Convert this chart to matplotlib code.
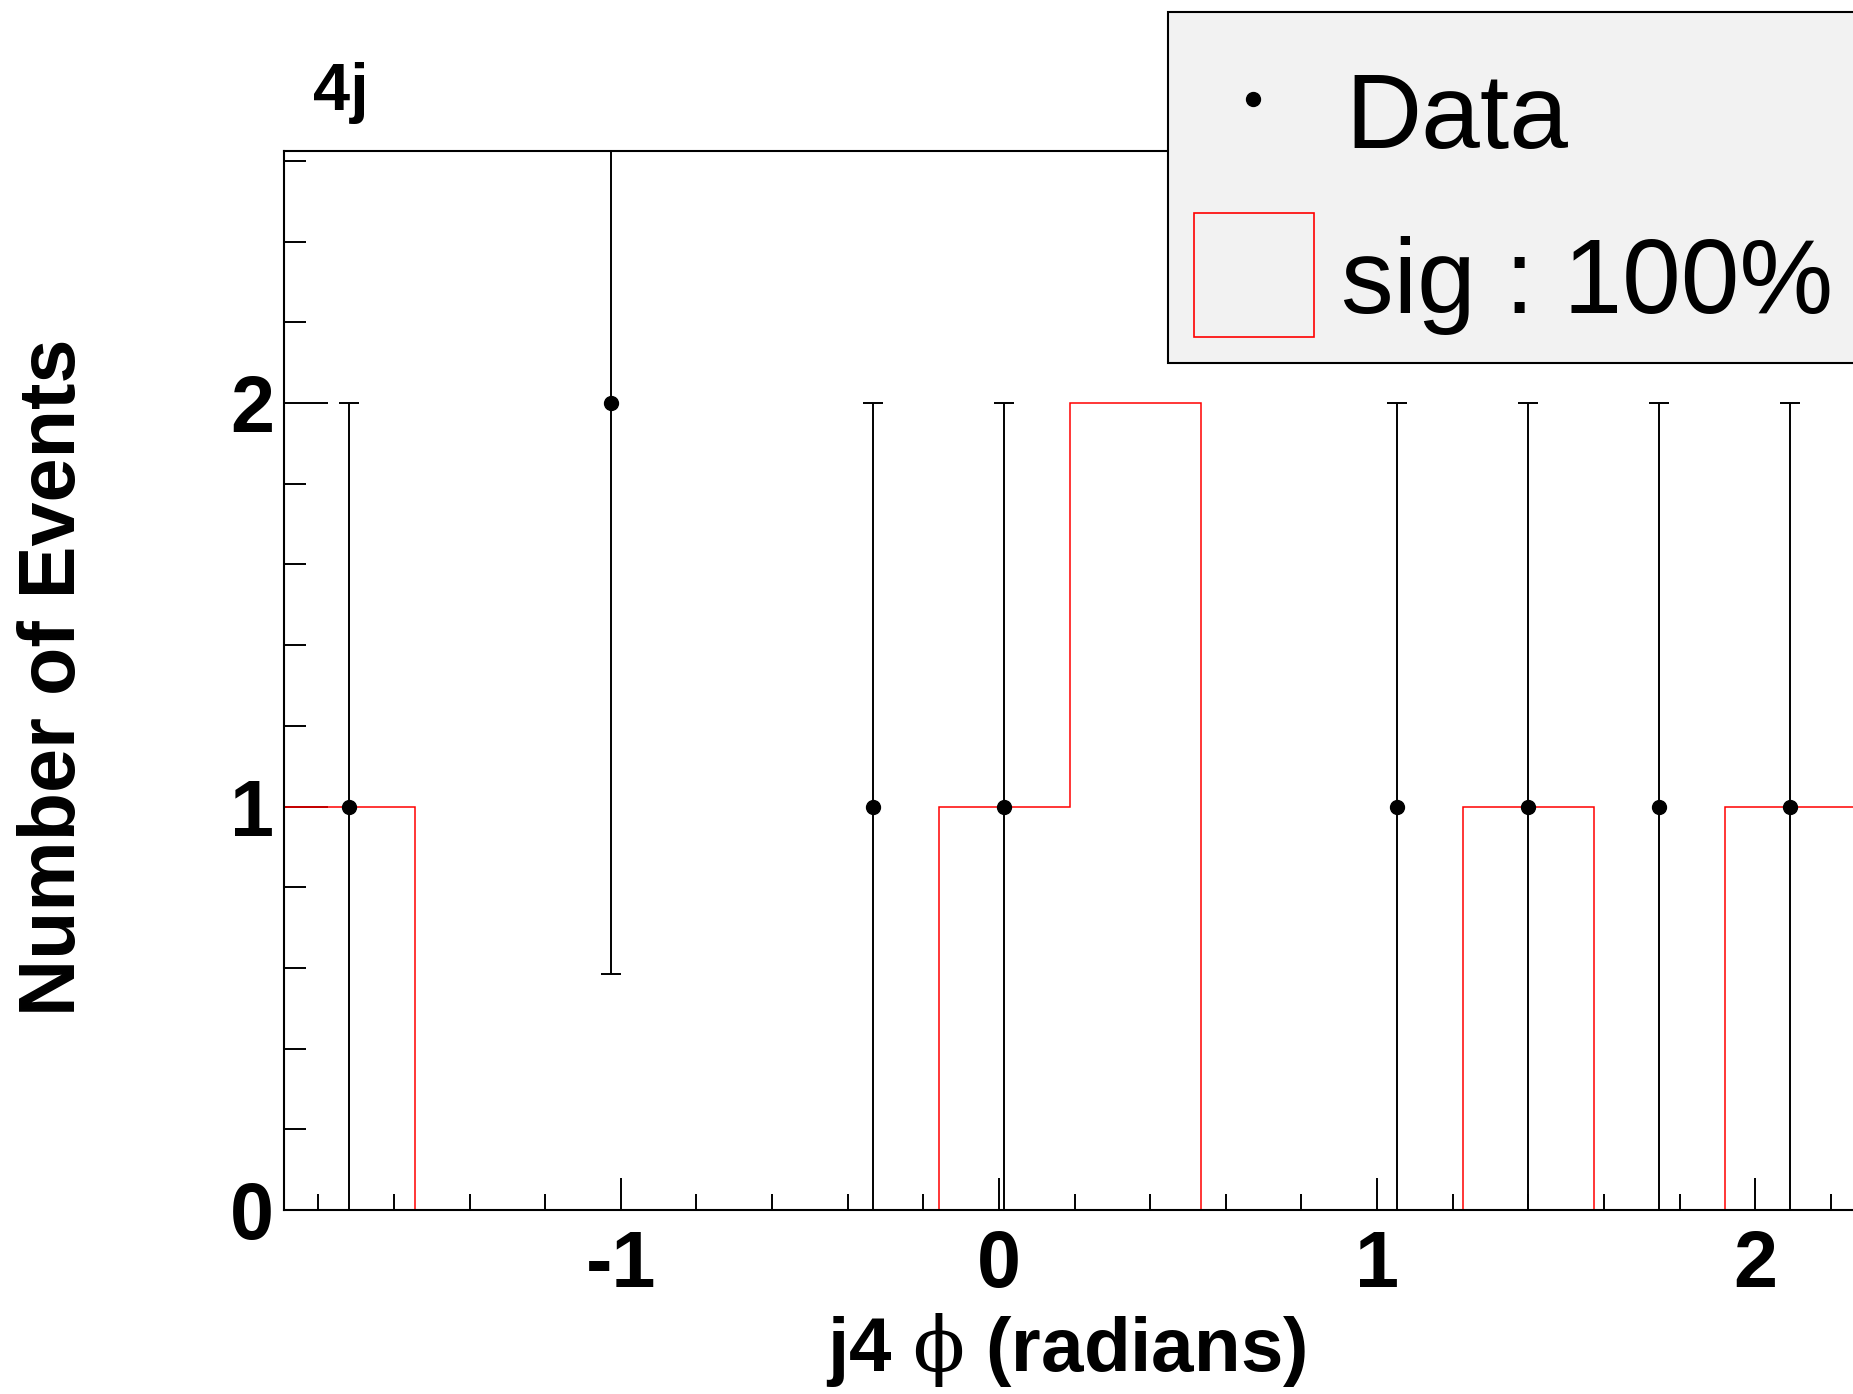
import numpy as np
import matplotlib
matplotlib.use("Agg")
import matplotlib.pyplot as plt
from matplotlib.patches import Rectangle
from matplotlib.lines import Line2D
from matplotlib.ticker import MultipleLocator, FixedLocator

plt.rcParams['font.family'] = ['Liberation Sans', 'DejaVu Sans']
plt.rcParams['axes.unicode_minus'] = False
plt.rcParams['mathtext.fontset'] = 'dejavuserif'

# histogram binning (j4 phi, radians)
x_min = -1.892
bin_width = 0.3465
n_bins = 12

# data counts per bin
data_counts = [1, 0, 2, 0, 1, 1, 0, 0, 1, 1, 1, 1]
# signal (100%) counts per bin
sig_counts = [1, 0, 0, 0, 0, 1, 2, 0, 0, 1, 0, 1]

x_major_ticks = [-1, 0, 1, 2]

edges = x_min + bin_width * np.arange(n_bins + 1)
centers = 0.5 * (edges[:-1] + edges[1:])

W, H = 1853, 1394
fig = plt.figure(figsize=(W / 100, H / 100), dpi=100)

# axes placed in pixels; the right part of the frame runs past the canvas
x_lo, x_hi = x_min, 3.0
px_per_unit = 378.1
left_px = 283.6
right_px = left_px + (x_hi - x_lo) * px_per_unit
bottom_px, top_px = 1210.0, 151.3
ax = fig.add_axes([left_px / W, 1 - bottom_px / H,
                   (right_px - left_px) / W, (bottom_px - top_px) / H])

ax.stairs(sig_counts, edges, color='red', lw=1.1, baseline=0, zorder=2)

counts = np.array(data_counts, dtype=float)
mask = counts > 0
ax.errorbar(centers[mask], counts[mask], yerr=np.sqrt(counts[mask]),
            fmt='o', color='black', ms=10, elinewidth=1.4, capsize=7,
            capthick=1.4, zorder=3)

ax.set_xlim(x_lo, x_hi)
ax.set_ylim(0, 2.624)

ax.xaxis.set_major_locator(FixedLocator(x_major_ticks))
ax.xaxis.set_minor_locator(MultipleLocator(0.2))
ax.yaxis.set_major_locator(MultipleLocator(1))
ax.yaxis.set_minor_locator(MultipleLocator(0.2))

ax.tick_params(axis='x', which='major', direction='in', length=23, width=1.4,
               pad=14, labelsize=57)
ax.tick_params(axis='x', which='minor', direction='in', length=11.5, width=1.4)
ax.tick_params(axis='y', which='major', direction='in', length=31.5, width=1.4,
               pad=7, labelsize=57)
ax.tick_params(axis='y', which='minor', direction='in', length=15.8, width=1.4)
for lab in ax.get_xticklabels() + ax.get_yticklabels():
    lab.set_fontweight('bold')

for s in ax.spines.values():
    s.set_linewidth(1.5)

# axis titles
fig.text(1066 / W, 1 - 1371 / H, r"j4 $\mathrm{\phi}$ (radians)", ha='center',
         va='baseline', fontsize=55, fontweight='bold')
fig.text(55 / W, 1 - 677 / H, "Number of Events", rotation=90, ha='center',
         va='center', fontsize=57, fontweight='bold')
fig.text(313 / W, 1 - 110 / H, "4j", ha='left', va='baseline', fontsize=48,
         fontweight='bold')

# legend box (runs past the right edge like the original)
box = Rectangle((1167.6 / W, 1 - 362.8 / H), (1950 - 1167.6) / W,
                (362.8 - 11.8) / H, transform=fig.transFigure,
                facecolor='#f2f2f2', edgecolor='black', lw=1.5, zorder=5)
fig.add_artist(box)
dot = Line2D([1252.7 / W], [1 - 99.3 / H], marker='o', ms=10, color='black',
             transform=fig.transFigure, zorder=6)
fig.add_artist(dot)
sig_box = Rectangle((1193.6 / W, 1 - 336.8 / H), (1314.2 - 1193.6) / W,
                    (336.8 - 212.7) / H, transform=fig.transFigure,
                    facecolor='#f2f2f2', edgecolor='red', lw=1.2, zorder=6)
fig.add_artist(sig_box)
fig.text(1345 / W, 1 - 147.7 / H, "Data", ha='left', va='baseline',
         fontsize=76, zorder=7)
fig.text(1341 / W, 1 - 313 / H, "sig : 100%", ha='left', va='baseline',
         fontsize=76, zorder=7)

fig.savefig("out.png", dpi=100)
